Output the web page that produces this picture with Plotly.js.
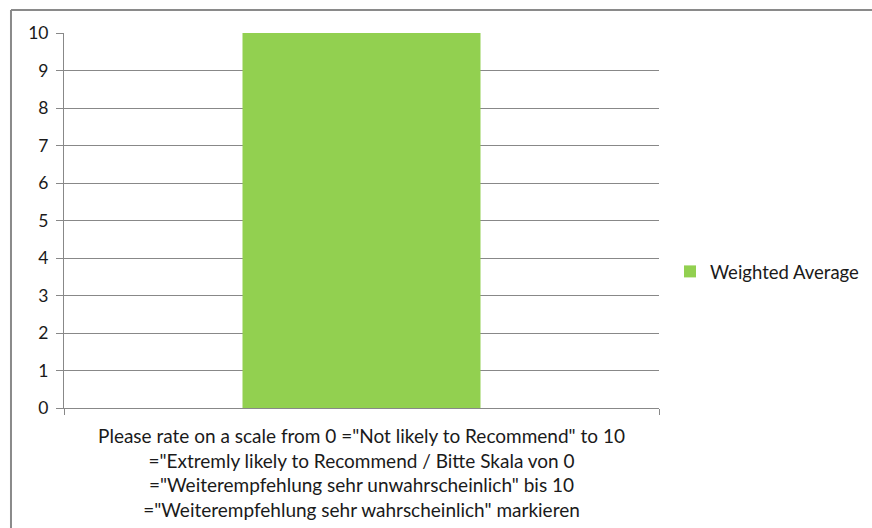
<!DOCTYPE html>
<html>
<head>
<meta charset="utf-8">
<script src="https://cdn.plot.ly/plotly-3.0.1.min.js"></script>
<style>html,body{margin:0;padding:0;background:#fff;}#chart{width:872px;height:528px;}</style>
</head>
<body>
<div id="chart"></div>
<script>
const categories = ['Please rate on a scale from 0 ="Not likely to Recommend" to 10<br>="Extremly likely to Recommend / Bitte Skala von 0<br>="Weiterempfehlung sehr unwahrscheinlich" bis 10<br>="Weiterempfehlung sehr wahrscheinlich" markieren'];
const seriesName = 'Weighted Average';
const weightedAverage = [10];
const yTicks = [0,1,2,3,4,5,6,7,8,9,10];

const FONT = 'Lato, "Open Sans", sans-serif';
const trace = {
  type: 'bar',
  x: categories,
  y: weightedAverage,
  name: seriesName,
  marker: {color: '#92d050'},
  showlegend: true,
  hoverinfo: 'skip'
};
const layout = {
  width: 872, height: 528,
  margin: {l: 64, r: 213, t: 33, b: 120, pad: 0, autoexpand: false},
  paper_bgcolor: '#fff', plot_bgcolor: '#fff',
  font: {family: FONT, size: 17, color: '#1a1a1a'},
  bargap: 0.6,
  showlegend: true,
  legend: {x: 1.0185, y: 0.363, xanchor: 'left', yanchor: 'middle', font: {family: FONT, size: 18.5, color: '#1a1a1a'}, itemwidth: 30, bgcolor: 'rgba(0,0,0,0)'},
  xaxis: {
    type: 'category', showgrid: false, zeroline: false,
    showline: true, linecolor: '#888', linewidth: 1,
    ticks: 'outside', tickson: 'boundaries', ticklen: 6, tickcolor: '#888',
    tickfont: {family: FONT, size: 19, color: '#1a1a1a'},
    ticklabelstandoff: 11,
    fixedrange: true
  },
  yaxis: {
    range: [0, 10], tickvals: yTicks, ticktext: yTicks.map(String),
    showgrid: true, gridcolor: '#888', gridwidth: 1, zeroline: false,
    showline: true, linecolor: '#888', linewidth: 1,
    ticks: 'outside', ticklen: 7, tickcolor: '#888',
    tickfont: {family: FONT, size: 17.5, color: '#1a1a1a'},
    ticklabelstandoff: 4,
    fixedrange: true
  },
  shapes: [
    {type: 'line', xref: 'paper', yref: 'paper', x0: -0.0891, x1: 1.5, y0: 1.0613, y1: 1.0613, line: {color: '#8a8a8a', width: 2}},
    {type: 'line', xref: 'paper', yref: 'paper', x0: -0.0891, x1: -0.0891, y0: 1.0613, y1: -0.5, line: {color: '#8a8a8a', width: 2}}
  ]
};
Plotly.newPlot('chart', [trace], layout, {displayModeBar: false, staticPlot: true});
</script>
</body>
</html>
